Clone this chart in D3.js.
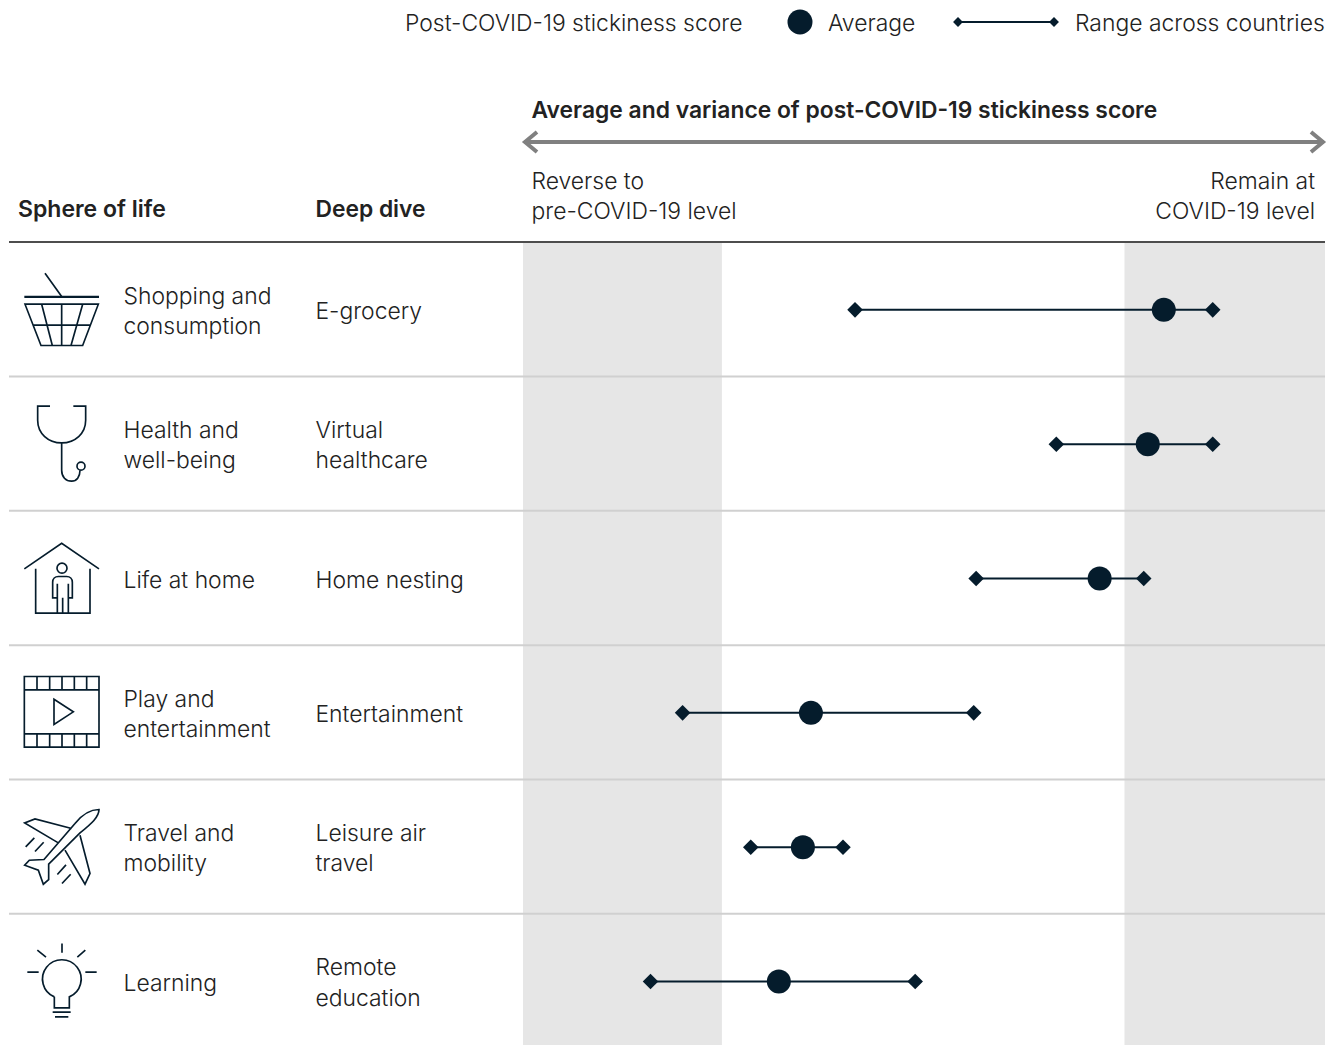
<!DOCTYPE html>
<html lang="en">
<head>
  <meta charset="UTF-8">
  <title>Post-COVID-19 stickiness score</title>
  <style>
    body { margin: 0; background: #fff; }
    text { font-family: Inter, sans-serif; font-weight: 300; font-size: 22.9px; fill: #222; }
    text.bold { font-weight: 600; }
  </style>
</head>
<body>
  <svg width="1332" height="1045"></svg>
  <script src="https://d3js.org/d3.v7.min.js"></script>
  <script>
    const spheres = [['Shopping and', 'consumption'], ['Health and', 'well-being'], ['Life at home'], ['Play and', 'entertainment'], ['Travel and', 'mobility'], ['Learning']];
    const dives = [['E-grocery'], ['Virtual', 'healthcare'], ['Home nesting'], ['Entertainment'], ['Leisure air', 'travel'], ['Remote', 'education']];
    const lows = [41.4, 66.5, 56.5, 19.9, 28.4, 15.9];
    const averages = [79.9, 77.9, 71.9, 35.9, 34.9, 31.9];
    const highs = [86.0, 86.0, 77.4, 56.2, 39.9, 48.9];
    const shaded = [[0, 24.8], [75.0, 100]];

    const dark = '#051c2c';
    const svg = d3.select('svg');
    const x = d3.scaleLinear().domain([0, 100]).range([523, 1325]);
    const y = d3.scaleBand().domain(d3.range(spheres.length)).range([243, 1049]);
    const cy = i => y(i) + y.bandwidth() / 2 - 0.3;

    // icons are traced in 3x coordinates, so they get scaled back down
    const icons = [
      { dy: -60, d: 'M135,70L185,140M75,163H295L248,287H123ZM98,226H272M125,163L157,287M185,163V287M248,163L213,287', extra: 'M73,141H297' },
      { dy: -194, d: 'M150,468H113V510C113,550 145,578 185,578C225,578 257,550 257,510V468H220M185,578V660C185,680 197,693 215,693C230,693 240,680 240,660', circle: [243, 648, 12] },
      { dy: -58, d: 'M73,145L185,68L297,145M107,145V278H270V145M172,278V232H158V185C158,175 165,168 175,168H200C210,168 217,175 217,185V232H205V278M188,232V278M172,190V232M205,190V232', circle: [186, 143, 15] },
      { dy: -193, d: 'M73,470H297V682H73ZM73,510H297M73,642H297M111,470V510M149,470V510M186,470V510M223,470V510M260,470V510M111,642V682M149,642V682M186,642V682M223,642V682M260,642V682M162,538L220,576L162,614Z' },
      { dy: -57, d: 'M297,58C270,58 245,75 225,100L132,208L88,210L74,225L115,240L130,282L146,268L146,222L240,128C275,100 297,80 297,58ZM215,115L105,86L74,98L175,158M240,135L270,250L255,282L195,180M103,143L77,170M131,156L105,184M198,224L172,253M212,252L186,280' },
      { dy: -192, d: 'M163,622A58,58 0 1 1 208,622V655H163V622M158,668H212M165,682H205M186,462V490M112,482L138,503M256,482L232,503M82,548H116M256,548H290' },
    ];

    // shaded bands go under everything
    svg.selectAll('rect.band').data(shaded).join('rect')
      .attr('class', 'band')
      .attr('x', d => x(d[0]))
      .attr('y', y.range()[0])
      .attr('width', d => x(d[1]) - x(d[0]))
      .attr('height', 1045 - y.range()[0])
      .attr('fill', '#e6e6e6');

    // row separators
    svg.selectAll('line.sep').data(d3.range(1, spheres.length)).join('line')
      .attr('class', 'sep')
      .attr('x1', 9).attr('x2', 1325)
      .attr('y1', d => y(d) - 0.8).attr('y2', d => y(d) - 0.8)
      .attr('stroke', '#d0d0d0').attr('stroke-width', 2);

    svg.append('line').attr('x1', 9).attr('x2', 1325).attr('y1', 242).attr('y2', 242)
      .attr('stroke', '#4d4d4d').attr('stroke-width', 2);

    function multiline(xPos, cyPos, lines, anchor) {
      const lh = 30.5;
      const t = svg.append('text').attr('text-anchor', anchor || 'start');
      lines.forEach((l, i) => {
        t.append('tspan').attr('x', xPos)
          .attr('y', cyPos + (i - (lines.length - 1) / 2) * lh + 8)
          .text(l);
      });
      return t;
    }

    spheres.forEach((s, i) => {
      multiline(123.5, cy(i) + 1, s);
      multiline(315.5, cy(i) + 1, dives[i]);

      const ic = icons[i];
      const g = svg.append('g')
        .attr('transform', `translate(0,${cy(i) + ic.dy}) scale(${1 / 3})`)
        .attr('fill', 'none').attr('stroke', dark).attr('stroke-width', 5);
      g.append('path').attr('d', ic.d);
      if (ic.extra) g.append('path').attr('d', ic.extra).attr('stroke-width', 7);
      if (ic.circle) g.append('circle').attr('cx', ic.circle[0]).attr('cy', ic.circle[1]).attr('r', ic.circle[2]);
    });

    const diamond = (sel, size) => sel.append('rect')
      .attr('x', -size / 2).attr('y', -size / 2).attr('width', size).attr('height', size)
      .attr('fill', dark);

    // range lines, end diamonds, average dots
    spheres.forEach((s, i) => {
      svg.append('line').attr('x1', x(lows[i])).attr('x2', x(highs[i]))
        .attr('y1', cy(i)).attr('y2', cy(i))
        .attr('stroke', dark).attr('stroke-width', 2);
      [lows[i], highs[i]].forEach(v => {
        diamond(svg.append('g').attr('transform', `translate(${x(v)},${cy(i)}) rotate(45)`), 11);
      });
      svg.append('circle').attr('cx', x(averages[i])).attr('cy', cy(i)).attr('r', 12).attr('fill', dark);
    });

    // legend
    svg.append('text').attr('x', 405).attr('y', 31).text('Post-COVID-19 stickiness score');
    svg.append('circle').attr('cx', 800).attr('cy', 22).attr('r', 12.5).attr('fill', dark);
    svg.append('text').attr('x', 828).attr('y', 31).text('Average');
    svg.append('line').attr('x1', 958).attr('x2', 1054).attr('y1', 22).attr('y2', 22).attr('stroke', dark).attr('stroke-width', 2);
    [958, 1054].forEach(p => diamond(svg.append('g').attr('transform', `translate(${p},22) rotate(45)`), 7));
    svg.append('text').attr('x', 1075).attr('y', 31).text('Range across countries');

    // header
    svg.append('text').attr('class', 'bold').attr('x', 531.5).attr('y', 118).style('font-size', '22.85px').text('Average and variance of post-COVID-19 stickiness score');
    svg.append('path').attr('d', 'M526,142H1322M537,132L525,142L537,152M1311,132L1323,142L1311,152')
      .attr('fill', 'none').attr('stroke', '#808080').attr('stroke-width', 4);
    multiline(531.5, 196, ['Reverse to', 'pre-COVID-19 level']);
    multiline(1315, 196, ['Remain at', 'COVID-19 level'], 'end');
    svg.append('text').attr('class', 'bold').attr('x', 18).attr('y', 217).style('font-size', '23px').text('Sphere of life');
    svg.append('text').attr('class', 'bold').attr('x', 315.5).attr('y', 217).style('font-size', '22.8px').text('Deep dive');
  </script>
</body>
</html>
